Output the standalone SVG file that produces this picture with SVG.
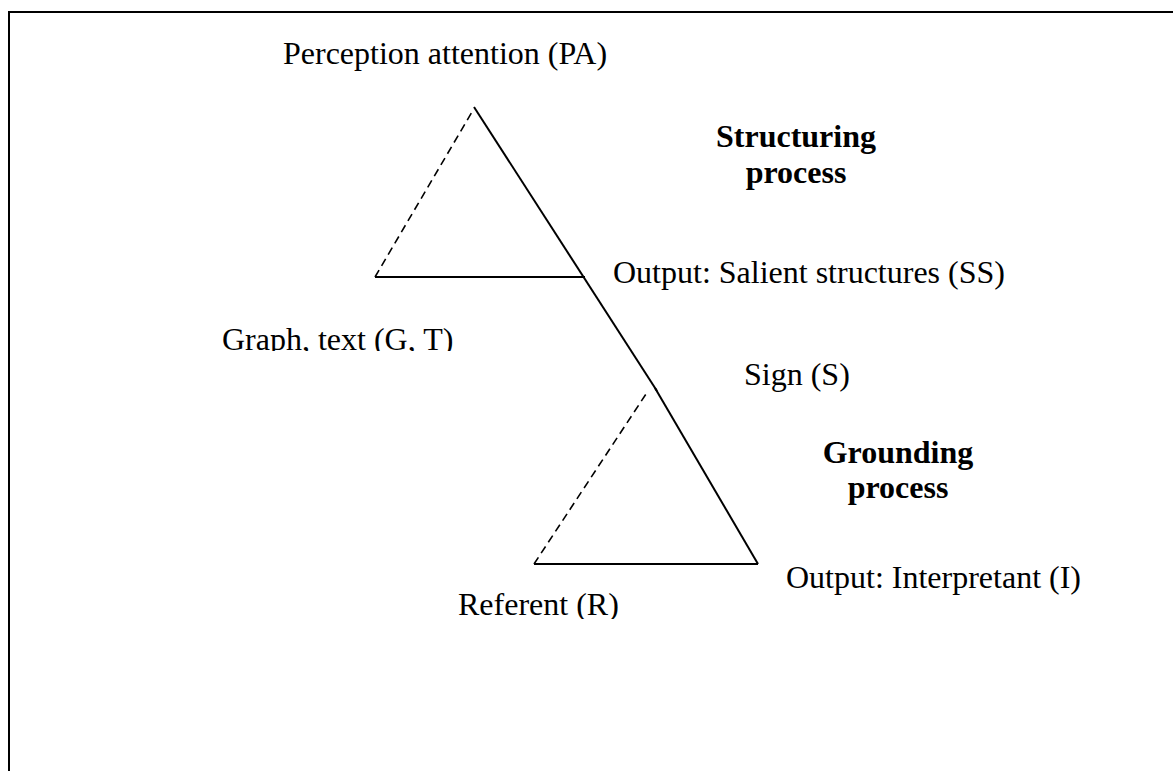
<svg xmlns="http://www.w3.org/2000/svg" width="1173" height="771" viewBox="0 0 1173 771">
<style>
text{font-family:"Liberation Serif","Times New Roman",serif;font-size:32px;fill:#000}
.b{font-weight:bold}
.solid{stroke:#000;stroke-width:2;fill:none}
.dash{stroke:#000;stroke-width:1.6;fill:none;stroke-dasharray:8 5}
.frame{stroke:#000;stroke-width:2;fill:none}
</style>
<defs>
<clipPath id="clipG"><rect x="150" y="300" width="400" height="51"/></clipPath>
<clipPath id="clipR"><rect x="400" y="570" width="300" height="49"/></clipPath>
</defs>
<rect width="1173" height="771" fill="#fff"/>
<path class="frame" d="M9,771 V12 H1173"/>
<g id="connectors">
<line class="solid" x1="474" y1="107" x2="657" y2="391"/>
<line class="dash" x1="375" y1="277" x2="472" y2="112"/>
<line class="solid" x1="375" y1="277" x2="585" y2="277"/>
<line class="solid" x1="655" y1="388" x2="758" y2="564"/>
<line class="dash" x1="534" y1="564" x2="646" y2="394"/>
<line class="solid" x1="534" y1="564" x2="758" y2="564"/>
</g>
<g id="pa"><text x="283" y="64">Perception attention (PA)</text></g>
<g id="structuring"><text class="b" x="796" y="147" text-anchor="middle">Structuring</text><text class="b" x="796" y="183" text-anchor="middle">process</text></g>
<g id="ss"><text x="613" y="283">Output: Salient structures (SS)</text></g>
<g id="gt"><text x="222" y="350" clip-path="url(#clipG)">Graph, text (G, T)</text></g>
<g id="sign"><text x="744" y="385">Sign (S)</text></g>
<g id="grounding"><text class="b" x="898" y="463" text-anchor="middle">Grounding</text><text class="b" x="898" y="498" text-anchor="middle">process</text></g>
<g id="interpretant"><text x="786" y="588">Output: Interpretant (I)</text></g>
<g id="referent"><text x="458" y="615" clip-path="url(#clipR)">Referent (R)</text></g>
</svg>
